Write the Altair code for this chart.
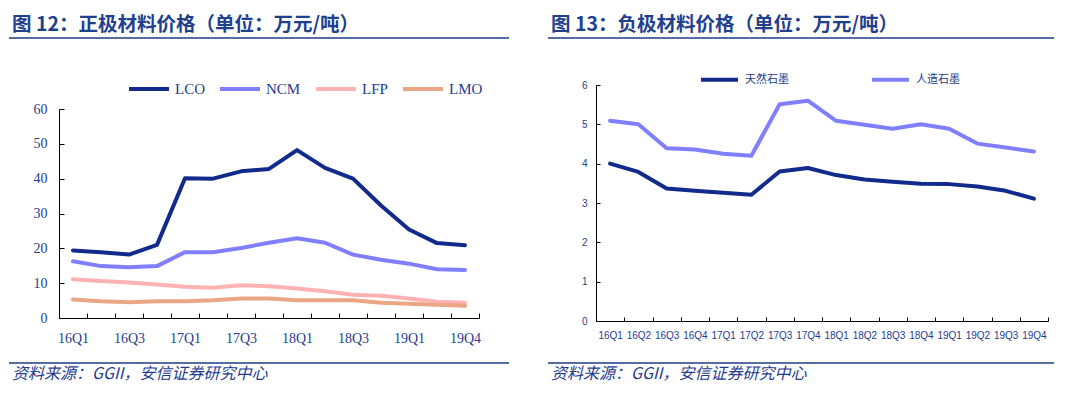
import altair as alt
import pandas as pd

# ---------------- data ----------------
quarters_left = ["16Q1", "16Q2", "16Q3", "16Q4", "17Q1", "17Q2", "17Q3", "17Q4",
                 "18Q1", "18Q2", "18Q3", "18Q4", "19Q1", "19Q2", "19Q4"]
left_shown_labels = ["16Q1", "16Q3", "17Q1", "17Q3", "18Q1", "18Q3", "19Q1", "19Q4"]
series_left = ["LCO", "NCM", "LFP", "LMO"]
lco = [19.4, 18.9, 18.2, 21.0, 40.1, 40.0, 42.1, 42.8, 48.2, 43.1, 40.0, 32.3, 25.4, 21.5, 20.9]
ncm = [16.3, 14.9, 14.6, 14.9, 18.9, 18.9, 20.1, 21.6, 22.9, 21.6, 18.2, 16.7, 15.6, 14.0, 13.8]
lfp = [11.1, 10.6, 10.2, 9.6, 9.0, 8.7, 9.4, 9.1, 8.5, 7.7, 6.7, 6.4, 5.6, 4.7, 4.4]
lmo = [5.3, 4.8, 4.5, 4.8, 4.8, 5.1, 5.6, 5.6, 5.1, 5.1, 5.1, 4.4, 4.1, 3.8, 3.5]

quarters_right = ["16Q1", "16Q2", "16Q3", "16Q4", "17Q1", "17Q2", "17Q3", "17Q4",
                  "18Q1", "18Q2", "18Q3", "18Q4", "19Q1", "19Q2", "19Q3", "19Q4"]
series_right = ["天然石墨", "人造石墨"]
natural = [4.0, 3.79, 3.37, 3.31, 3.26, 3.21, 3.8, 3.89, 3.71, 3.6, 3.54, 3.49, 3.48, 3.42, 3.31, 3.11]
artificial = [5.09, 5.0, 4.39, 4.36, 4.25, 4.2, 5.51, 5.6, 5.09, 4.99, 4.89, 5.0, 4.89, 4.51, 4.41, 4.31]

title_left = "图 12：正极材料价格（单位：万元/吨）"
title_right = "图 13：负极材料价格（单位：万元/吨）"
source_text = "资料来源：GGII，安信证券研究中心"

# ---------------- styles ----------------
NAVY = "#263B90"
TITLE_BLUE = "#1F3F8F"
RULE_BLUE = "#1F3A8A"
colors_left = ["#112B8C", "#7F7FFF", "#FFB2B2", "#EBA686"]
colors_right = ["#112B8C", "#7F7FFF"]
CJK = "Noto Sans CJK SC"

rows = []
for s, vals in zip(series_left, [lco, ncm, lfp, lmo]):
    for q, v in zip(quarters_left, vals):
        rows.append({"quarter": q, "series": s, "value": v})
df_left = pd.DataFrame(rows)

rows = []
for s, vals in zip(series_right, [natural, artificial]):
    for q, v in zip(quarters_right, vals):
        rows.append({"quarter": q, "series": s, "value": v})
df_right = pd.DataFrame(rows)

one = alt.Data(values=[{"k": 0}])


def decorations(title, x_left, x_right, title_y, rule_top, rule_bottom, src_y, text_x):
    t = alt.Chart(one).mark_text(
        text=title, align="left", baseline="alphabetic", font=CJK,
        fontSize=19.5, fontWeight="bold", color=TITLE_BLUE
    ).encode(x=alt.value(text_x), y=alt.value(title_y))
    r1 = alt.Chart(one).mark_rule(color=RULE_BLUE, strokeWidth=1.3).encode(
        x=alt.value(x_left), x2=alt.value(x_right), y=alt.value(rule_top))
    r2 = alt.Chart(one).mark_rule(color=RULE_BLUE, strokeWidth=1.3).encode(
        x=alt.value(x_left), x2=alt.value(x_right), y=alt.value(rule_bottom))
    s = alt.Chart(one).mark_text(
        text=source_text, align="left", baseline="alphabetic", font=CJK,
        fontSize=16, fontStyle="italic", color=NAVY
    ).encode(x=alt.value(text_x), y=alt.value(src_y))
    return [t, r1, r2, s]


# ---------------- left panel ----------------
WL, HL = 420, 233
label_expr_left = "indexof(" + str(left_shown_labels) + ", datum.value) >= 0 ? datum.label : ''"

lines_left = alt.Chart(df_left).mark_line(
    strokeWidth=4, strokeCap="round", strokeJoin="round"
).encode(
    x=alt.X("quarter:N", sort=quarters_left,
            scale=alt.Scale(type="band", domain=quarters_left, paddingInner=0, paddingOuter=0),
            axis=alt.Axis(title=None, tickBand="extent", tickSize={"expr": "-5"},
                          tickColor="black", domainColor="black", labelAngle=0,
                          labelPadding=18, labelFont="Liberation Serif", labelFontSize=14,
                          labelColor=NAVY, labelExpr=label_expr_left, grid=False)),
    y=alt.Y("value:Q", scale=alt.Scale(domain=[0, 60], nice=False, range=[HL, 24]),
            axis=alt.Axis(title=None, values=[0, 10, 20, 30, 40, 50, 60],
                          tickSize={"expr": "-5"}, tickColor="black", domainColor="black",
                          labelPadding=17, labelFont="Liberation Serif", labelFontSize=14,
                          labelColor=NAVY, grid=False)),
    color=alt.Color("series:N", sort=series_left,
                    scale=alt.Scale(domain=series_left, range=colors_left),
                    legend=alt.Legend(orient="none", legendX=68, legendY=-18,
                                      direction="horizontal", columns=4, title=None,
                                      symbolType="stroke", symbolSize=1600,
                                      symbolStrokeWidth=4, labelFont="Liberation Serif",
                                      labelFontSize=15, labelColor=NAVY, labelOffset=4,
                                      columnPadding=7, padding=0)),
)

left = alt.layer(
    lines_left,
    *decorations(title_left, -50, 450, -54, -47, 278, 294, -47)
).properties(width=WL, height=HL)

# ---------------- right panel ----------------
WR, HR = 452, 236

lines_right = alt.Chart(df_right).mark_line(
    strokeWidth=4, strokeCap="round", strokeJoin="round"
).encode(
    x=alt.X("quarter:N", sort=quarters_right,
            scale=alt.Scale(type="band", domain=quarters_right, paddingInner=0, paddingOuter=0),
            axis=alt.Axis(title=None, tickBand="extent", tickSize={"expr": "-4"},
                          tickColor="black", domainColor="black", labelAngle=0,
                          labelPadding=13, labelFont="Liberation Sans", labelFontSize=10,
                          labelColor=NAVY, grid=False)),
    y=alt.Y("value:Q", scale=alt.Scale(domain=[0, 6], nice=False),
            axis=alt.Axis(title=None, values=[0, 1, 2, 3, 4, 5, 6],
                          tickSize={"expr": "-4"}, tickColor="black", domainColor="black",
                          labelPadding=13, labelFont="Liberation Sans", labelFontSize=10,
                          labelColor=NAVY, grid=False)),
    color=alt.Color("series:N", sort=series_right,
                    scale=alt.Scale(domain=series_right, range=colors_right),
                    legend=alt.Legend(orient="none", legendX=103, legendY=-26,
                                      direction="horizontal", columns=2, title=None,
                                      symbolType="stroke", symbolSize=1369,
                                      symbolStrokeWidth=4, labelFont=CJK,
                                      labelFontSize=11, labelColor=NAVY, labelOffset=5,
                                      columnPadding=75, padding=0)),
)

right = alt.layer(
    lines_right,
    *decorations(title_right, -48, 458, -54, -47, 278, 294, -45)
).properties(width=WR, height=HR)

chart = alt.hconcat(left, right, spacing=37).properties(
    padding={"left": 0, "top": 7, "right": 0, "bottom": 8},
    background="white",
).configure_view(stroke=None).resolve_scale(color="independent", x="independent", y="independent")

chart.save("out.html", embed_options={"renderer": "svg", "actions": False})
